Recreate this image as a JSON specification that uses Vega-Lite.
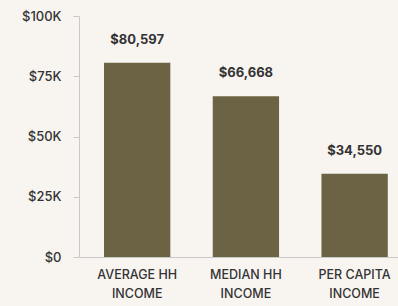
{
  "$schema": "https://vega.github.io/schema/vega-lite/v6.json",
  "autosize": "none",
  "width": 319,
  "height": 241,
  "padding": {"left": 79, "top": 16, "right": 0, "bottom": 49},
  "background": "#f8f5f1",
  "config": {"view": {"stroke": null}, "font": "Inter"},
  "data": {"values": [
    {"category": "AVERAGE HH INCOME", "value": 80597, "label": "$80,597"},
    {"category": "MEDIAN HH INCOME", "value": 66668, "label": "$66,668"},
    {"category": "PER CAPITA INCOME", "value": 34550, "label": "$34,550"}
  ]},
  "encoding": {
    "x": {"field": "category", "type": "nominal", "sort": null,
      "scale": {"paddingInner": 0.39, "paddingOuter": 0.162, "align": 0.71},
      "axis": {"title": null, "labelAngle": 0, "ticks": false, "domainColor": "#c9c9c9",
        "labelExpr": "[replace(datum.label, ' INCOME', ''), 'INCOME']",
        "labelFontSize": 12.5, "labelFontWeight": 500, "labelColor": "#333333", "labelPadding": 11, "labelLineHeight": 19, "labelBaseline": "top"}},
    "y": {"field": "value", "type": "quantitative",
      "scale": {"domain": [0, 100000]},
      "axis": {"title": null, "values": [0, 25000, 50000, 75000, 100000], "grid": false,
        "domainColor": "#c9c9c9", "tickColor": "#c9c9c9", "tickSize": 6,
        "labelExpr": "datum.value == 0 ? '$0' : '$' + (datum.value/1000) + 'K'",
        "labelFontSize": 13, "labelFontWeight": 500, "labelColor": "#333333", "labelPadding": 12}}
  },
  "layer": [
    {"mark": {"type": "bar", "color": "#6b6343"}},
    {"mark": {"type": "text", "baseline": "alphabetic", "dy": -19, "fontSize": 13, "fontWeight": "bold", "color": "#333333"},
     "encoding": {"text": {"field": "label"}}}
  ]
}
